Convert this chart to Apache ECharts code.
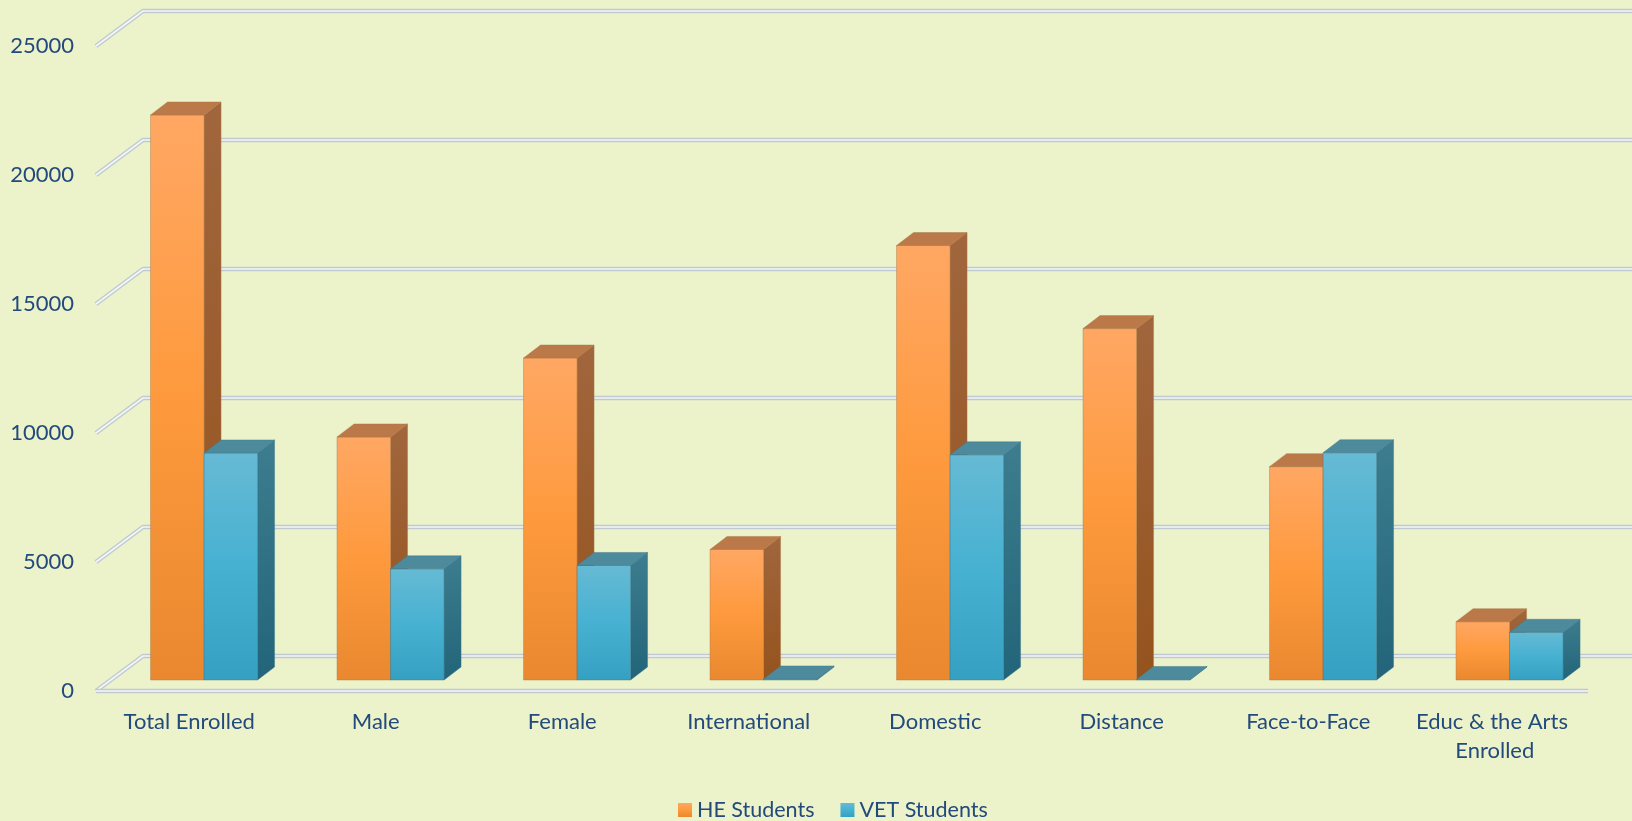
<!DOCTYPE html>
<html>
<head>
<meta charset="utf-8">
<script src="https://cdn.jsdelivr.net/npm/echarts@6/dist/echarts.min.js"></script>
<style>
html,body{margin:0;padding:0;background:#ecf2ca;}
#chart{width:1632px;height:821px;}
</style>
</head>
<body>
<div id="chart"></div>
<script>
const categories = ['Total Enrolled', 'Male', 'Female', 'International', 'Domestic', 'Distance', 'Face-to-Face', 'Educ & the Arts Enrolled'];
const heStudents = [21900, 9420, 12480, 5060, 16840, 13620, 8270, 2260];
const vetStudents = [8800, 4310, 4440, 40, 8730, 20, 8810, 1850];
const yTicks = [0, 5000, 10000, 15000, 20000, 25000];
const seriesNames = ['HE Students', 'VET Students'];

const TEXT = '#234a7c';
const FONT = 'Lato';
// 3D projection constants (pixels)
const WALL_DX = 47, WALL_DY = -35;   // front of floor -> back wall
const FX = 14.8, FY = -11;           // front plane -> bar front faces
const BDX = 17, BDY = -13;           // bar depth
const BW = 53.5;                     // bar width

const G = echarts.graphic;
const pal = {
  he: {
    front: new G.LinearGradient(0, 0, 0, 1, [{offset: 0, color: '#ffa763'}, {offset: 0.5, color: '#fe9a3d'}, {offset: 1, color: '#e9882f'}]),
    side: new G.LinearGradient(0, 0, 0, 1, [{offset: 0, color: '#a1663d'}, {offset: 1, color: '#95531d'}]),
    top: '#bb7848',
    stroke: 'rgba(170,120,70,0.55)'
  },
  vet: {
    front: new G.LinearGradient(0, 0, 0, 1, [{offset: 0, color: '#66bad4'}, {offset: 0.5, color: '#47b1d2'}, {offset: 1, color: '#35a0c1'}]),
    side: new G.LinearGradient(0, 0, 0, 1, [{offset: 0, color: '#3d7d8f'}, {offset: 1, color: '#226479'}]),
    top: '#4d8a9c',
    stroke: 'rgba(60,120,140,0.55)'
  }
};

function barRenderer(sideSign, p) {
  return function (params, api) {
    const idx = api.value(0), v = api.value(1);
    const base = api.coord([idx, 0]);
    const top = api.coord([idx, v]);
    const cx = base[0] + FX;
    const xl = sideSign < 0 ? cx - BW : cx;
    const yb = base[1] + FY;
    const yt = top[1] + FY;
    const xr = xl + BW;
    return {
      type: 'group',
      children: [
        {type: 'polygon', shape: {points: [[xr, yt], [xr + BDX, yt + BDY], [xr + BDX, yb + BDY], [xr, yb]]},
         style: {fill: p.side, stroke: p.stroke, lineWidth: 0.8}},
        {type: 'rect', shape: {x: xl, y: yt, width: BW, height: Math.max(yb - yt, 0.6)},
         style: {fill: p.front, stroke: p.stroke, lineWidth: 0.8}},
        {type: 'polygon', shape: {points: [[xl, yt], [xl + BDX, yt + BDY], [xr + BDX, yt + BDY], [xr, yt]]},
         style: {fill: p.top, stroke: p.stroke, lineWidth: 0.8}}
      ]
    };
  };
}

function gridRenderer(params, api) {
  const v = api.value(1);
  const cs = params.coordSys;
  const y = api.coord([0, v])[1];
  const x0 = cs.x, x1 = cs.x + cs.width;
  const pts = [[x0, y], [x0 + WALL_DX, y + WALL_DY], [x1 + WALL_DX, y + WALL_DY]];
  const children = [
    {type: 'polyline', shape: {points: pts}, style: {stroke: '#bfc9cf', lineWidth: 4.4, fill: null, lineJoin: 'round'}},
    {type: 'polyline', shape: {points: pts}, style: {stroke: '#f4f7f8', lineWidth: 1.6, fill: null, lineJoin: 'round'}}
  ];
  if (v === 0) {
    const fp = [[x0, y], [x1, y]];
    children.push({type: 'polyline', shape: {points: fp}, style: {stroke: '#bfc9cf', lineWidth: 4.4, fill: null}});
    children.push({type: 'polyline', shape: {points: fp}, style: {stroke: '#f4f7f8', lineWidth: 1.6, fill: null}});
  }
  return {type: 'group', children: children};
}

const chart = echarts.init(document.getElementById('chart'), null, {renderer: 'canvas'});
chart.setOption({
  backgroundColor: '#ecf2ca',
  animation: false,
  textStyle: {fontFamily: FONT},
  grid: {left: 96, right: 44, top: 46, bottom: 130},
  legend: {
    left: 678, top: 799, padding: 0,
    itemWidth: 14, itemHeight: 14, itemGap: 26, icon: 'rect',
    textStyle: {color: TEXT, fontSize: 21.5, fontFamily: FONT},
    data: [
      {name: seriesNames[0], itemStyle: {color: pal.he.front}},
      {name: seriesNames[1], itemStyle: {color: pal.vet.front}}
    ]
  },
  xAxis: {
    type: 'category',
    data: categories,
    axisLine: {show: false},
    axisTick: {show: false},
    splitLine: {show: false},
    axisLabel: {
      interval: 0, margin: 16, color: TEXT, fontSize: 22, fontFamily: FONT,
      width: 180, overflow: 'break', lineHeight: 29
    }
  },
  yAxis: {
    type: 'value',
    min: 0, max: 25000, interval: 5000,
    axisLine: {show: false},
    axisTick: {show: false},
    splitLine: {show: false},
    axisLabel: {margin: 22, color: TEXT, fontSize: 22, fontFamily: FONT,
      formatter: function (v) { return String(v); }}
  },
  series: [
    {
      name: 'grid', type: 'custom', silent: true, z: 1,
      renderItem: gridRenderer,
      data: yTicks.map(function (t) { return [0, t]; })
    },
    {
      name: seriesNames[0], type: 'custom', z: 2,
      itemStyle: {color: pal.he.front},
      renderItem: barRenderer(-1, pal.he),
      data: heStudents.map(function (v, i) { return [i, v]; })
    },
    {
      name: seriesNames[1], type: 'custom', z: 2,
      itemStyle: {color: pal.vet.front},
      renderItem: barRenderer(1, pal.vet),
      data: vetStudents.map(function (v, i) { return [i, v]; })
    }
  ]
});
</script>
</body>
</html>
